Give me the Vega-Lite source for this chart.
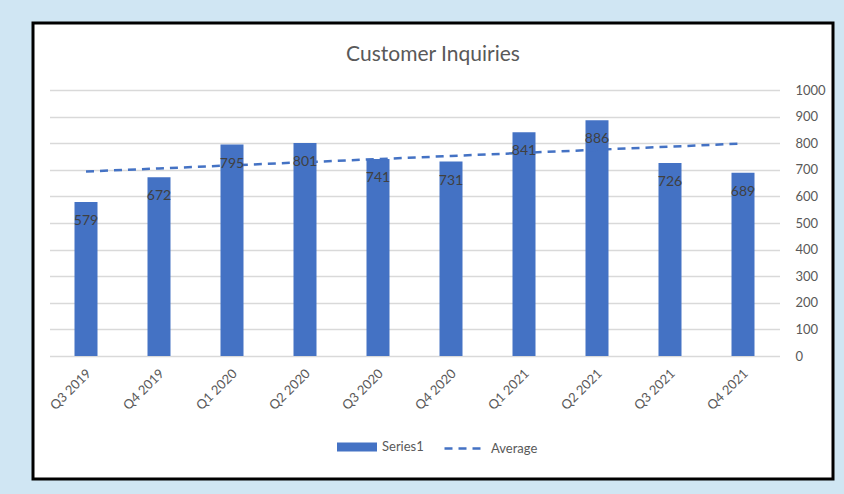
{
  "$schema": "https://vega.github.io/schema/vega-lite/v6.json",
  "width": 800,
  "height": 456,
  "autosize": "none",
  "padding": {"left": 33, "top": 23, "right": 11, "bottom": 15},
  "background": "#d0e6f3",
  "title": {
    "text": "Customer Inquiries",
    "anchor": "middle",
    "frame": "group",
    "baseline": "alphabetic",
    "offset": -59,
    "font": "Lato",
    "fontSize": 21,
    "fontWeight": "normal",
    "color": "#595959"
  },
  "data": {
    "values": [
      {"quarter": "Q3 2019", "value": 579, "avg": 693.4},
      {"quarter": "Q4 2019", "value": 672, "avg": 705.1},
      {"quarter": "Q1 2020", "value": 795, "avg": 716.8},
      {"quarter": "Q2 2020", "value": 801, "avg": 728.5},
      {"quarter": "Q3 2020", "value": 741, "avg": 740.3},
      {"quarter": "Q4 2020", "value": 731, "avg": 752.0},
      {"quarter": "Q1 2021", "value": 841, "avg": 763.7},
      {"quarter": "Q2 2021", "value": 886, "avg": 775.4},
      {"quarter": "Q3 2021", "value": 726, "avg": 787.1},
      {"quarter": "Q4 2021", "value": 689, "avg": 798.8}
    ]
  },
  "encoding": {
    "x": {
      "field": "quarter",
      "type": "nominal",
      "sort": null,
      "scale": {"range": [16.5, 746.5], "paddingInner": 0, "paddingOuter": 0},
      "axis": {
        "title": null,
        "domain": false,
        "ticks": false,
        "tickSize": 0,
        "grid": false,
        "offset": -123,
        "labelAngle": -45,
        "labelAlign": "right",
        "labelBaseline": "middle",
        "labelPadding": 15,
        "labelOffset": 3,
        "labelFont": "Lato",
        "labelFontSize": 13,
        "labelColor": "#595959"
      }
    }
  },
  "layer": [
    {
      "mark": {"type": "bar", "size": 23},
      "encoding": {
        "y": {
          "field": "value",
          "type": "quantitative",
          "scale": {"domain": [0, 1000], "range": [333, 67], "nice": false, "zero": true},
          "axis": {
            "orient": "left",
            "title": null,
            "domain": false,
            "ticks": false,
            "tickSize": 0,
            "labels": false,
            "values": [0, 100, 200, 300, 400, 500, 600, 700, 800, 900, 1000],
            "grid": true,
            "gridColor": "#d9d9d9",
            "gridWidth": 1.3
          }
        },
        "color": {
          "datum": "Series1",
          "scale": {"range": ["#4472C4"]},
          "legend": {
            "orient": "none",
            "legendX": 304,
            "legendY": 404,
            "title": null,
            "padding": 0,
            "symbolType": "M-1,-0.22L1,-0.22L1,0.22L-1,0.22Z",
            "symbolSize": 1600,
            "symbolStrokeWidth": 0,
            "labelOffset": 5,
            "labelFont": "Lato",
            "labelFontSize": 13,
            "labelColor": "#595959"
          }
        }
      }
    },
    {
      "mark": {"type": "line", "color": "#4472C4", "strokeWidth": 2.5},
      "encoding": {
        "y": {"field": "avg", "type": "quantitative", "axis": null},
        "strokeDash": {
          "datum": "Average",
          "scale": {"range": [[8, 6]]},
          "legend": {
            "orient": "none",
            "legendX": 410,
            "legendY": 403,
            "title": null,
            "padding": 0,
            "symbolType": "stroke",
            "symbolSize": 1764,
            "symbolStrokeColor": "#4472C4",
            "symbolStrokeWidth": 2.5,
            "labelOffset": 3,
            "labelFont": "Lato",
            "labelFontSize": 13,
            "labelColor": "#595959"
          }
        }
      }
    },
    {
      "mark": {"type": "text", "dy": 19, "baseline": "middle", "font": "Lato", "fontSize": 14, "color": "#404040"},
      "encoding": {
        "y": {
          "field": "value",
          "type": "quantitative",
          "axis": {
            "orient": "right",
            "title": null,
            "domain": false,
            "ticks": false,
            "tickSize": 0,
            "grid": false,
            "format": "d",
            "values": [0, 100, 200, 300, 400, 500, 600, 700, 800, 900, 1000],
            "offset": -53,
            "labelPadding": 15,
            "labelAlign": "left",
            "labelFont": "Lato",
            "labelFontSize": 13,
            "labelColor": "#595959"
          }
        },
        "text": {"field": "value", "type": "quantitative"}
      }
    }
  ],
  "resolve": {"axis": {"y": "independent"}},
  "config": {
    "view": {"fill": "white", "stroke": "#000000", "strokeWidth": 3}
  }
}
